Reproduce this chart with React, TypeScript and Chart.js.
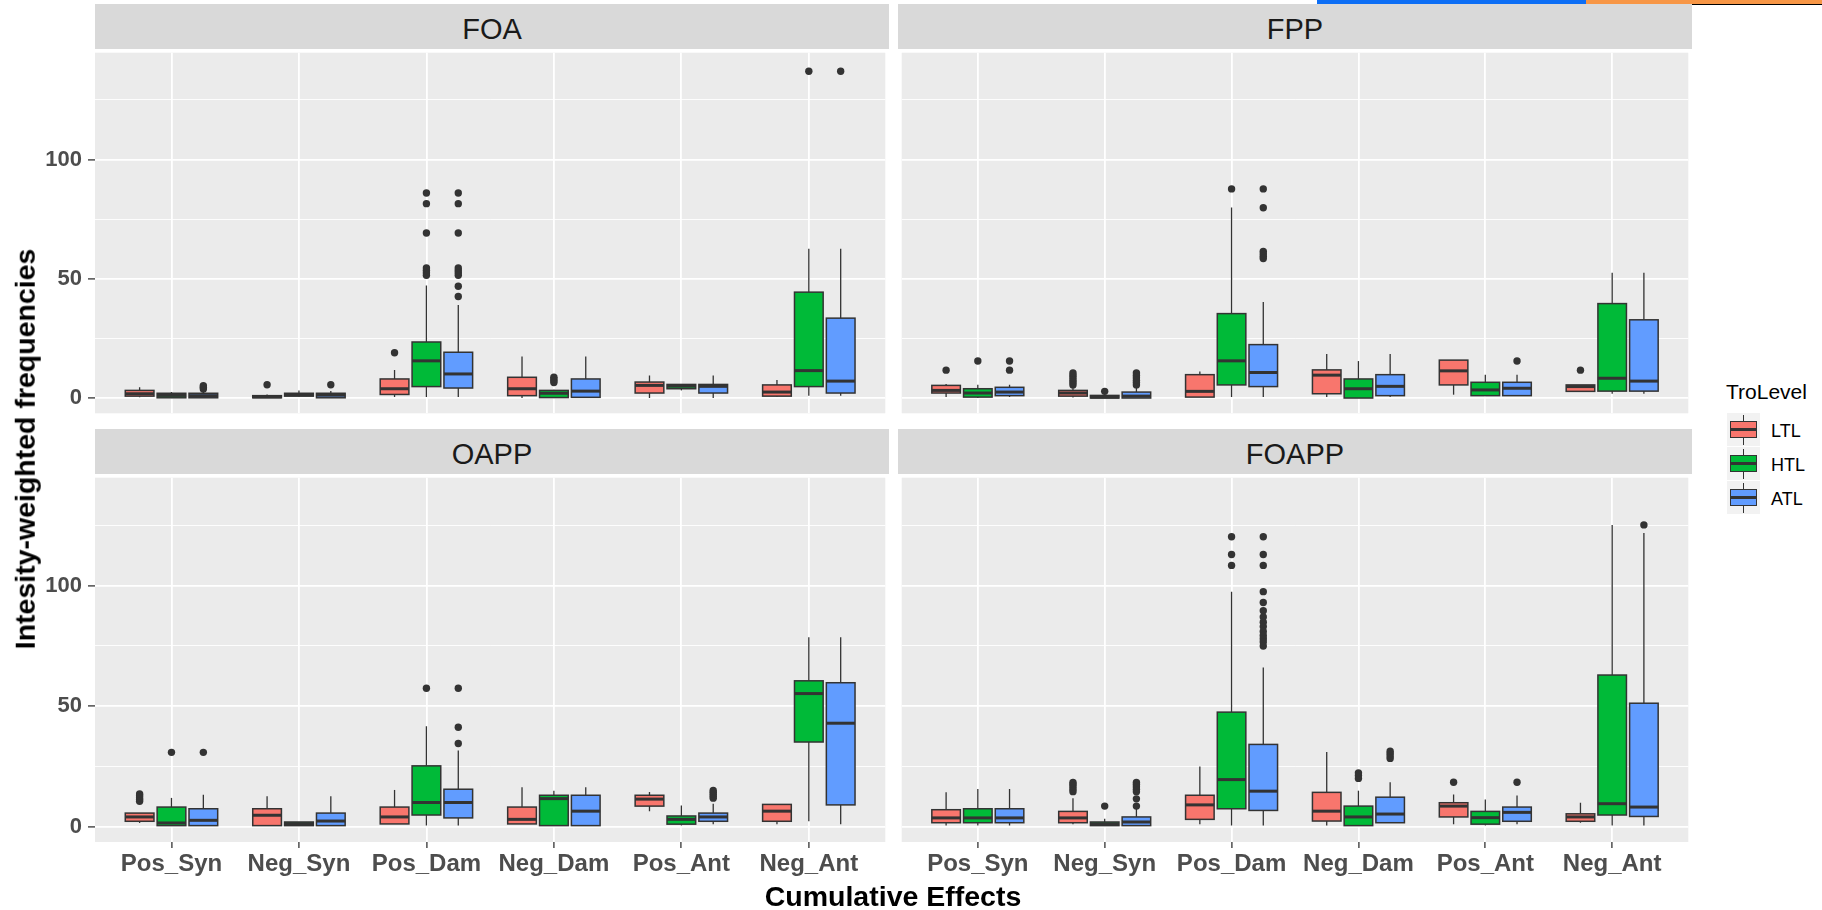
import React, { useEffect, useRef } from 'react';
import { Chart, registerables } from 'chart.js';

Chart.register(...registerables);

// ---------- data ----------
const CATEGORIES = ['Pos_Syn', 'Neg_Syn', 'Pos_Dam', 'Neg_Dam', 'Pos_Ant', 'Neg_Ant'];
const GROUPS = ['LTL', 'HTL', 'ATL'];
const PANELS = ['FOA', 'FPP', 'OAPP', 'FOAPP'];
const Y_LABELLED = [0, 50, 100];

// each entry: [lower whisker, Q1, median, Q3, upper whisker]
const FOA_LTL = [[0.3, 0.8, 1.8, 3.2, 4.5], [0, 0.1, 0.5, 1.0, 1.5], [0.4, 1.5, 3.9, 8.0, 11.8], [0, 1.0, 3.9, 8.7, 17.4], [0, 2.1, 5.3, 6.7, 9.5], [0.5, 0.8, 2.5, 5.5, 7.6]];
const FOA_HTL = [[0, 0.1, 1.1, 2.0, 2.5], [0.5, 0.8, 1.4, 2.0, 3.2], [0.4, 4.8, 15.6, 23.5, 47.2], [0, 0.2, 2.0, 3.2, 3.5], [3.2, 3.9, 5.0, 5.7, 5.7], [1.0, 4.8, 11.5, 44.4, 62.6]];
const FOA_ATL = [[0, 0.1, 1.0, 2.0, 2.8], [0, 0.1, 1.2, 2.0, 3.0], [0.4, 4.2, 10.1, 19.2, 39.0], [0, 0.3, 2.9, 8.0, 17.4], [0, 2.1, 4.9, 5.7, 9.5], [1.0, 2.1, 7.1, 33.5, 62.6]];
const FOA_LTL_OUT = [[], [5.6], [19.0], [], [], []];
const FOA_HTL_OUT = [[], [], [86, 81.5, 69.2, 54.5, 53.5, 52.5, 51.5], [6.5, 7.2, 8.0, 8.7], [], [137]];
const FOA_ATL_OUT = [[3.8, 4.5, 5.2], [5.6], [86, 81.5, 69.2, 54.5, 53.5, 52.5, 51.5, 46.9, 42.6], [], [], [137]];

const FPP_LTL = [[0.4, 2.1, 3.2, 5.3, 5.9], [0.2, 0.8, 2.1, 3.2, 4.5], [0.4, 0.4, 2.8, 9.8, 11.1], [0.4, 1.8, 9.6, 11.8, 18.5], [1.4, 5.5, 11.4, 15.9, 15.9], [2.8, 2.8, 4.8, 5.5, 5.5]];
const FPP_HTL = [[0, 0.4, 2.1, 3.9, 5.6], [0, 0, 0.4, 1.1, 1.5], [0.4, 5.5, 15.6, 35.4, 79.9], [0, 0, 3.9, 8.0, 15.5], [1.0, 1.0, 3.4, 6.6, 9.8], [1.8, 2.9, 8.3, 39.6, 52.5]];
const FPP_ATL = [[0.4, 1.0, 2.5, 4.5, 5.6], [0, 0, 0.8, 2.5, 4.5], [0.4, 4.8, 10.7, 22.4, 40.3], [0.4, 1.0, 4.9, 9.8, 18.5], [1.0, 1.0, 4.1, 6.6, 9.8], [1.8, 2.9, 7.1, 32.8, 52.5]];
const FPP_LTL_OUT = [[11.7], [5.5, 6.5, 7.5, 8.5, 9.5, 10.5], [], [], [], [11.7]];
const FPP_HTL_OUT = [[15.5], [2.8], [87.7], [], [], []];
const FPP_ATL_OUT = [[11.7, 15.5], [5.5, 6.5, 7.5, 8.5, 9.5, 10.5], [87.7, 79.8, 61.5, 60.5, 59.5, 58.5], [], [15.5], []];

const OAPP_LTL = [[1.5, 2.2, 4.0, 5.6, 5.6], [0.4, 0.4, 4.7, 7.4, 12.6], [1.1, 1.1, 4.0, 8.1, 15.2], [1.1, 1.1, 3.0, 8.1, 16.3], [6.4, 8.5, 11.4, 13.0, 14.4], [1.0, 2.2, 6.4, 9.2, 9.2]];
const OAPP_HTL = [[0.4, 0.4, 1.5, 8.1, 11.9], [0.4, 0.4, 1.2, 1.9, 1.9], [0.4, 4.8, 10.0, 25.2, 41.6], [0.4, 0.4, 11.6, 13.0, 14.9], [0.4, 1.0, 3.0, 4.4, 8.8], [2.2, 35.1, 55.2, 60.5, 78.6]];
const OAPP_ATL = [[0.4, 0.4, 2.6, 7.4, 13.2], [0.4, 0.4, 2.3, 5.6, 12.6], [0.4, 3.6, 10.0, 15.5, 31.6], [0.4, 0.4, 6.4, 13.0, 16.3], [1.0, 2.2, 4.0, 5.6, 9.5], [1.0, 9.0, 42.9, 59.7, 78.6]];
const OAPP_LTL_OUT = [[10.5, 11.2, 12.0, 12.8, 13.5], [], [], [], [], []];
const OAPP_HTL_OUT = [[30.8], [], [57.4], [], [], []];
const OAPP_ATL_OUT = [[30.8], [], [57.4, 41.2, 34.5], [], [11.8, 12.6, 13.4, 14.2, 15.0], []];

const FOAPP_LTL = [[0.4, 1.6, 3.6, 7.0, 14.2], [1.0, 1.6, 3.6, 6.3, 11.8], [1.0, 3.0, 9.0, 13.0, 24.9], [0.4, 2.3, 6.4, 14.2, 31.0], [1.0, 4.0, 8.5, 9.9, 13.3], [1.6, 2.2, 4.0, 5.3, 9.9]];
const FOAPP_HTL = [[0.4, 1.6, 3.6, 7.4, 15.6], [0.4, 0.4, 1.1, 1.9, 3.3], [0.4, 7.4, 19.5, 47.5, 97.5], [0.4, 0.4, 4.0, 8.5, 14.9], [0.4, 1.0, 3.7, 6.3, 11.2], [0.4, 4.8, 9.5, 62.9, 125.2]];
const FOAPP_ATL = [[0.4, 1.6, 3.6, 7.4, 15.6], [0.4, 0.4, 1.9, 4.0, 7.8], [0.4, 6.7, 14.7, 34.1, 66.0], [1.6, 1.6, 5.2, 12.2, 18.4], [1.0, 2.2, 5.9, 8.1, 12.9], [0.4, 4.2, 8.1, 51.2, 121.8]];
const FOAPP_LTL_OUT = [[], [14.5, 15.5, 16.5, 17.5, 18.3], [], [], [18.4], []];
const FOAPP_HTL_OUT = [[], [8.5], [120.3, 112.9, 108.4], [20.0, 21.2, 22.3], [], []];
const FOAPP_ATL_OUT = [[], [8.5, 11.5, 14.5, 15.5, 16.5, 17.5, 18.3], [120.3, 112.9, 108.4, 97.5, 93.0, 89.6, 87.0, 84.8, 83.0, 81.0, 79.3, 78.0, 76.6, 74.9], [28.3, 29.3, 30.3, 31.3], [18.4], [125.2]];

const PANEL_STATS = [
  [FOA_LTL, FOA_HTL, FOA_ATL],
  [FPP_LTL, FPP_HTL, FPP_ATL],
  [OAPP_LTL, OAPP_HTL, OAPP_ATL],
  [FOAPP_LTL, FOAPP_HTL, FOAPP_ATL],
];
const PANEL_OUT = [
  [FOA_LTL_OUT, FOA_HTL_OUT, FOA_ATL_OUT],
  [FPP_LTL_OUT, FPP_HTL_OUT, FPP_ATL_OUT],
  [OAPP_LTL_OUT, OAPP_HTL_OUT, OAPP_ATL_OUT],
  [FOAPP_LTL_OUT, FOAPP_HTL_OUT, FOAPP_ATL_OUT],
];

// ---------- style ----------
const FONT = '"Liberation Sans", Arial, Helvetica, sans-serif';
const FILLS = ['#F8766D', '#00BA38', '#619CFF'];
const LINE = '#333333';
const Y_MIN = -6.4;
const Y_MAX = 144.8;

type Rect = { left: number; top: number; width: number; height: number };

const PANEL_LAYOUT: { canvas: Rect; strip: Rect; showX: boolean; showY: boolean }[] = [
  { canvas: { left: 0, top: 49, width: 889, height: 368 }, strip: { left: 95, top: 4, width: 794, height: 45 }, showX: false, showY: true },
  { canvas: { left: 898, top: 49, width: 794, height: 368 }, strip: { left: 898, top: 4, width: 794, height: 45 }, showX: false, showY: false },
  { canvas: { left: 0, top: 474, width: 889, height: 436 }, strip: { left: 95, top: 429, width: 794, height: 45 }, showX: true, showY: true },
  { canvas: { left: 898, top: 474, width: 794, height: 436 }, strip: { left: 898, top: 429, width: 794, height: 45 }, showX: true, showY: false },
];

function Panel({ idx }: { idx: number }) {
  const ref = useRef<HTMLCanvasElement | null>(null);
  const lay = PANEL_LAYOUT[idx];
  useEffect(() => {
    if (!ref.current) return;
    const stats = PANEL_STATS[idx];
    const outs = PANEL_OUT[idx];
    const { showX, showY } = lay;

    const datasets = GROUPS.map((g, gi) => {
      const pts: { x: number; y: number }[] = [];
      outs[gi].forEach((list, ci) => {
        list.forEach((v) => pts.push({ x: ci + 1 + (gi - 1) * 0.25, y: v }));
      });
      return {
        label: g,
        data: pts,
        pointRadius: 3.7,
        pointHoverRadius: 3.7,
        backgroundColor: LINE,
        borderColor: LINE,
        borderWidth: 0,
      };
    });

    const boxPlugin = {
      id: 'boxes' + idx,
      beforeDraw(chart: any) {
        const { ctx, chartArea: a } = chart;
        ctx.save();
        ctx.fillStyle = '#EBEBEB';
        ctx.fillRect(a.left, a.top, a.right - a.left, a.bottom - a.top);
        ctx.restore();
      },
      beforeDatasetsDraw(chart: any) {
        const { ctx } = chart;
        const xs = chart.scales.x;
        const ys = chart.scales.y;
        const hw = 0.1125;
        ctx.save();
        stats.forEach((grp, gi) => {
          grp.forEach((s, ci) => {
            const [lo, q1, med, q3, hi] = s;
            const xc = ci + 1 + (gi - 1) * 0.25;
            const px = xs.getPixelForValue(xc);
            const pl = xs.getPixelForValue(xc - hw);
            const pr = xs.getPixelForValue(xc + hw);
            const yl = ys.getPixelForValue(lo);
            const y1 = ys.getPixelForValue(q1);
            const ym = ys.getPixelForValue(med);
            const y3 = ys.getPixelForValue(q3);
            const yh = ys.getPixelForValue(hi);
            ctx.strokeStyle = LINE;
            ctx.lineWidth = 1.3;
            ctx.beginPath();
            ctx.moveTo(px, yh);
            ctx.lineTo(px, y3);
            ctx.moveTo(px, y1);
            ctx.lineTo(px, yl);
            ctx.stroke();
            ctx.fillStyle = FILLS[gi];
            ctx.fillRect(pl, y3, pr - pl, y1 - y3);
            ctx.lineWidth = 1.5;
            ctx.strokeRect(pl, y3, pr - pl, y1 - y3);
            ctx.lineWidth = 3;
            ctx.beginPath();
            ctx.moveTo(pl, ym);
            ctx.lineTo(pr, ym);
            ctx.stroke();
          });
        });
        ctx.restore();
      },
    };

    const chart = new Chart(ref.current, {
      type: 'scatter',
      data: { datasets },
      options: {
        animation: false,
        responsive: false,
        maintainAspectRatio: false,
        devicePixelRatio: 1,
        layout: { padding: 0 },
        events: [],
        plugins: { legend: { display: false }, tooltip: { enabled: false }, title: { display: false } },
        scales: {
          x: {
            type: 'linear',
            min: 0.4,
            max: 6.6,
            border: { display: false },
            grid: { color: '#FFFFFF', lineWidth: 1.8, drawTicks: showX, tickLength: 6, tickColor: LINE, tickWidth: 1.3 },
            ticks: {
              display: showX,
              stepSize: 1,
              autoSkip: false,
              maxRotation: 0,
              minRotation: 0,
              includeBounds: false,
              padding: 2,
              color: '#4D4D4D',
              font: { family: FONT, size: 24, weight: 'bold' },
              callback: (v: any) => CATEGORIES[Math.round(Number(v)) - 1] ?? '',
            },
            afterFit: (s: any) => {
              s.height = showX ? 68 : 0;
              s.paddingLeft = 0;
              s.paddingRight = 0;
              s.paddingTop = 0;
              s.paddingBottom = 0;
            },
          },
          y: {
            type: 'linear',
            min: Y_MIN,
            max: Y_MAX,
            border: { display: false },
            grid: {
              color: '#FFFFFF',
              lineWidth: (c: any) => (c.tick && Y_LABELLED.includes(c.tick.value) ? 1.8 : 0.9),
              drawTicks: showY,
              tickLength: 7,
              tickWidth: 1.3,
              tickColor: (c: any) => (c.tick && Y_LABELLED.includes(c.tick.value) ? LINE : 'rgba(0,0,0,0)'),
            },
            ticks: {
              display: showY,
              stepSize: 25,
              autoSkip: false,
              includeBounds: false,
              padding: 6,
              color: '#4D4D4D',
              font: { family: FONT, size: 22, weight: 'bold' },
              callback: (v: any) => (Y_LABELLED.includes(Number(v)) ? String(v) : ''),
            },
            afterFit: (s: any) => {
              s.width = showY ? 95 : 0;
              s.paddingLeft = 0;
              s.paddingRight = 0;
              s.paddingTop = 0;
              s.paddingBottom = 0;
            },
          },
        },
      } as any,
      plugins: [boxPlugin as any],
    });
    return () => chart.destroy();
  }, [idx]);

  const c = lay.canvas;
  const s = lay.strip;
  return (
    <>
      <div style={{ position: 'absolute', left: s.left, top: s.top, width: s.width, height: s.height, background: '#D9D9D9' }}>
        <div style={{ position: 'absolute', left: 0, right: 0, top: 11, textAlign: 'center', fontFamily: FONT, fontSize: 29, lineHeight: '29px', color: '#1A1A1A', whiteSpace: 'nowrap' }}>
          {PANELS[idx]}
        </div>
      </div>
      <canvas ref={ref} width={c.width} height={c.height} style={{ position: 'absolute', left: c.left, top: c.top, width: c.width, height: c.height }} />
    </>
  );
}

function LegendKey({ i }: { i: number }) {
  const top = 413 + i * 34;
  return (
    <>
      <div style={{ position: 'absolute', left: 1727, top, width: 33, height: 33, background: '#F2F2F2' }}>
        <div style={{ position: 'absolute', left: 15.8, top: 1.5, width: 1.3, height: 30, background: LINE }} />
        <div style={{ position: 'absolute', left: 3, top: 8, width: 27, height: 16.5, boxSizing: 'border-box', border: `1.5px solid ${LINE}`, background: FILLS[i] }} />
        <div style={{ position: 'absolute', left: 3, top: 15, width: 27, height: 2.6, background: LINE }} />
      </div>
      <div style={{ position: 'absolute', left: 1771, top: top + 8.6, fontFamily: FONT, fontSize: 18, lineHeight: '18px', color: '#000', whiteSpace: 'nowrap' }}>
        {GROUPS[i]}
      </div>
    </>
  );
}

export default function App() {
  return (
    <div style={{ position: 'absolute', left: 0, top: 0, width: 1822, height: 910, background: '#FFFFFF', overflow: 'hidden' }}>
      {/* artefact bar at the top right of the screenshot */}
      <div style={{ position: 'absolute', left: 1317, top: 0, width: 269, height: 4, background: '#0D6EF5' }} />
      <div style={{ position: 'absolute', left: 1586, top: 0, width: 236, height: 4, background: '#F79646' }} />
      <div style={{ position: 'absolute', left: 1317, top: 4, width: 505, height: 1, background: '#000' }} />

      {PANELS.map((_, i) => (
        <Panel key={i} idx={i} />
      ))}

      <div style={{ position: 'absolute', left: 25, top: 449, transform: 'translate(-50%, -50%) rotate(-90deg)', fontFamily: FONT, fontSize: 28.5, lineHeight: '28.5px', fontWeight: 'bold', color: '#000', whiteSpace: 'nowrap' }}>
        Intesity-weighted frequencies
      </div>
      <div style={{ position: 'absolute', left: 893, top: 882, transform: 'translateX(-50%)', fontFamily: FONT, fontSize: 28.5, lineHeight: '28.5px', fontWeight: 'bold', color: '#000', whiteSpace: 'nowrap' }}>
        Cumulative Effects
      </div>

      <div style={{ position: 'absolute', left: 1726, top: 380.5, fontFamily: FONT, fontSize: 21, lineHeight: '21px', color: '#000', whiteSpace: 'nowrap' }}>
        TroLevel
      </div>
      {GROUPS.map((_, i) => (
        <LegendKey key={i} i={i} />
      ))}
    </div>
  );
}
